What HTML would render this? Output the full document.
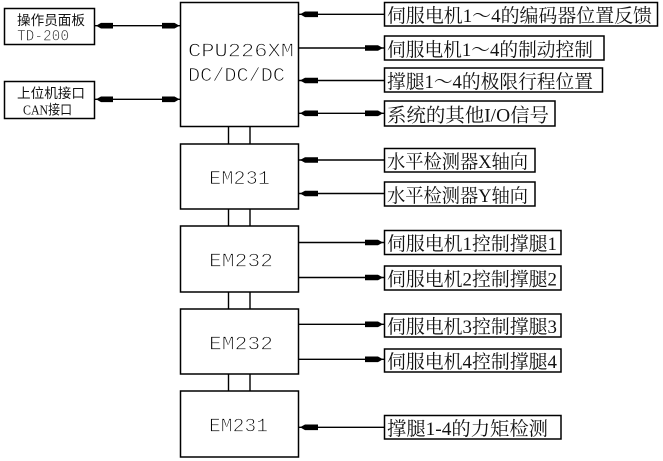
<!DOCTYPE html>
<html>
<head>
<meta charset="utf-8">
<style>
html,body{margin:0;padding:0;background:#fff;}
svg{display:block;}
.b{fill:none;stroke:#000;stroke-width:1.5;}
.l{stroke:#000;stroke-width:1.4;fill:none;}
.h{fill:#000;stroke:none;}
.cad{font-family:"Liberation Mono",monospace;font-size:19.5px;fill:#000;stroke:#fff;stroke-width:0.8;}
.lab{font-family:"Liberation Serif","Noto Serif CJK SC",serif;font-size:19px;fill:#111;}
.sm{font-family:"Liberation Sans","Noto Sans CJK SC",sans-serif;font-size:13.5px;fill:#111;}
.smc{font-family:"Liberation Mono",monospace;font-size:16px;fill:#111;stroke:#fff;stroke-width:0.6;}
.sms{font-family:"Liberation Serif","Noto Sans CJK SC",serif;font-size:13.5px;fill:#111;}
</style>
</head>
<body>
<svg width="663" height="461" viewBox="0 0 663 461" xmlns="http://www.w3.org/2000/svg">
<!-- main boxes -->
<rect class="b" x="180.5" y="2.5" width="118" height="124"/>
<rect class="b" x="180.5" y="144" width="118" height="65"/>
<rect class="b" x="180.5" y="226" width="118" height="66"/>
<rect class="b" x="180.5" y="309" width="118" height="65"/>
<rect class="b" x="180.5" y="391" width="118" height="66"/>
<!-- vertical connectors -->
<path class="l" d="M228.5 126.5V144M250 126.5V144M228.5 209V226M250 209V226M228.5 292V309M250 292V309M228.5 374V391M250 374V391"/>
<!-- main box text -->
<text class="cad" x="188" y="56.5" textLength="106" lengthAdjust="spacingAndGlyphs">CPU226XM</text>
<text class="cad" x="188" y="81" textLength="97" lengthAdjust="spacingAndGlyphs">DC/DC/DC</text>
<text class="cad" x="209" y="184" textLength="61" lengthAdjust="spacingAndGlyphs">EM231</text>
<text class="cad" x="209" y="266.5" textLength="64" lengthAdjust="spacingAndGlyphs">EM232</text>
<text class="cad" x="209" y="349.3" textLength="64" lengthAdjust="spacingAndGlyphs">EM232</text>
<text class="cad" x="209" y="431.7" textLength="59" lengthAdjust="spacingAndGlyphs">EM231</text>

<!-- left boxes -->
<rect class="b" x="4.5" y="8.5" width="90" height="36"/>
<rect class="b" x="4.5" y="81.5" width="90" height="37"/>
<text class="sm" x="17" y="25" textLength="68" lengthAdjust="spacingAndGlyphs">操作员面板</text>
<text class="smc" x="17" y="40.7" textLength="52" lengthAdjust="spacingAndGlyphs">TD-200</text>
<text class="sm" x="17" y="98" textLength="68" lengthAdjust="spacingAndGlyphs">上位机接口</text>
<text class="sms" x="23" y="114.5" textLength="49" lengthAdjust="spacingAndGlyphs">CAN接口</text>

<!-- left lines -->
<path class="l" d="M94.5 25.7H180.5M94.5 99.3H180.5"/>
<polygon class="h" points="96,25.7 101,22.9 113,22.9 113,28.5 101,28.5"/>
<polygon class="h" points="179.5,25.7 174.5,22.9 162,22.9 162,28.5 174.5,28.5"/>
<polygon class="h" points="96,99.3 101,96.5 113,96.5 113,102.1 101,102.1"/>
<polygon class="h" points="179.5,99.3 174.5,96.5 162,96.5 162,102.1 174.5,102.1"/>

<!-- right lines -->
<path class="l" d="M298.5 14.3H384.5M298.5 48H384.5M298.5 80.5H384.5M298.5 113.3H384.5M298.5 160H384.5M298.5 193.5H384.5M298.5 242.5H384.5M298.5 277.5H384.5M298.5 324.3H384.5M298.5 359.3H384.5M298.5 427.3H384.5"/>
<!-- left pointing heads at x=300 -->
<polygon class="h" points="300,14.3 305,11.5 318,11.5 318,17.1 305,17.1"/>
<polygon class="h" points="300,80.5 305,77.7 318,77.7 318,83.3 305,83.3"/>
<polygon class="h" points="300,113.3 305,110.5 318,110.5 318,116.1 305,116.1"/>
<polygon class="h" points="300,160 305,157.2 318,157.2 318,162.8 305,162.8"/>
<polygon class="h" points="300,193.5 305,190.7 318,190.7 318,196.3 305,196.3"/>
<polygon class="h" points="300,427.3 305,424.5 318,424.5 318,430.1 305,430.1"/>
<!-- right pointing heads at x=383 -->
<polygon class="h" points="383,48 378,45.2 365,45.2 365,50.8 378,50.8"/>
<polygon class="h" points="383,113.3 378,110.5 365,110.5 365,116.1 378,116.1"/>
<polygon class="h" points="383,242.5 378,239.7 365,239.7 365,245.3 378,245.3"/>
<polygon class="h" points="383,277.5 378,274.7 365,274.7 365,280.3 378,280.3"/>
<polygon class="h" points="383,324.3 378,321.5 365,321.5 365,327.1 378,327.1"/>
<polygon class="h" points="383,359.3 378,356.5 365,356.5 365,362.1 378,362.1"/>

<!-- right label boxes -->
<rect class="b" x="384.5" y="2.5" width="273" height="23.5"/>
<rect class="b" x="384.5" y="36" width="219.5" height="24"/>
<rect class="b" x="384.5" y="68" width="218" height="24"/>
<rect class="b" x="384.5" y="101" width="170.5" height="25"/>
<rect class="b" x="384.5" y="148.5" width="150.5" height="23.5"/>
<rect class="b" x="384.5" y="182" width="150.5" height="24"/>
<rect class="b" x="384.5" y="230.5" width="176.5" height="24"/>
<rect class="b" x="384.5" y="266" width="176.5" height="24"/>
<rect class="b" x="384.5" y="314" width="176.5" height="23"/>
<rect class="b" x="384.5" y="349" width="176.5" height="23"/>
<rect class="b" x="384.5" y="415.5" width="176.5" height="23.5"/>

<text class="lab" x="387" y="22" textLength="265" lengthAdjust="spacingAndGlyphs">伺服电机1～4的编码器位置反馈</text>
<text class="lab" x="387" y="56" textLength="206" lengthAdjust="spacingAndGlyphs">伺服电机1～4的制动控制</text>
<text class="lab" x="387" y="88" textLength="206" lengthAdjust="spacingAndGlyphs">撑腿1～4的极限行程位置</text>
<text class="lab" x="387" y="121.5" textLength="162" lengthAdjust="spacingAndGlyphs">系统的其他I/O信号</text>
<text class="lab" x="387" y="168" textLength="141" lengthAdjust="spacingAndGlyphs">水平检测器X轴向</text>
<text class="lab" x="387" y="202" textLength="141" lengthAdjust="spacingAndGlyphs">水平检测器Y轴向</text>
<text class="lab" x="387" y="250" textLength="170" lengthAdjust="spacingAndGlyphs">伺服电机1控制撑腿1</text>
<text class="lab" x="387" y="285.5" textLength="170" lengthAdjust="spacingAndGlyphs">伺服电机2控制撑腿2</text>
<text class="lab" x="387" y="333" textLength="170" lengthAdjust="spacingAndGlyphs">伺服电机3控制撑腿3</text>
<text class="lab" x="387" y="368" textLength="170" lengthAdjust="spacingAndGlyphs">伺服电机4控制撑腿4</text>
<text class="lab" x="387" y="435" textLength="161" lengthAdjust="spacingAndGlyphs">撑腿1-4的力矩检测</text>
</svg>
</body>
</html>
